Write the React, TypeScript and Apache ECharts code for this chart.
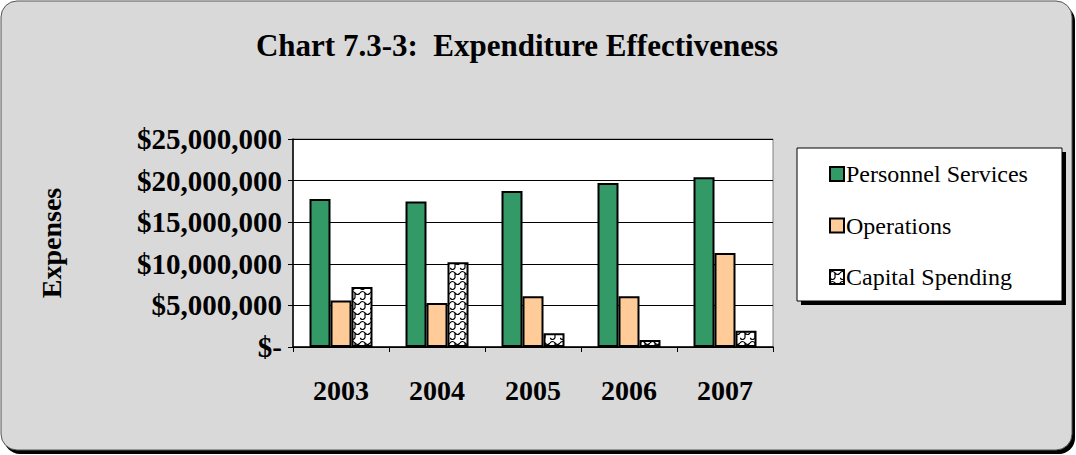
import React, { useEffect, useRef } from "react";
import * as echarts from "echarts";

const years = ["2003", "2004", "2005", "2006", "2007"];
const personnel = [17800000, 17500000, 18750000, 19700000, 20400000];
const operations = [5600000, 5300000, 6100000, 6100000, 11300000];
const capital = [7200000, 10200000, 1650000, 850000, 1950000];
const seriesNames = ["Personnel Services", "Operations", "Capital Spending"];
const titleText = "Chart 7.3-3:  Expenditure Effectiveness";
const yName = "Expenses";

const FONT = "'Liberation Serif', 'Times New Roman', serif";

function makePattern(): string {
  const c = document.createElement("canvas");
  c.width = 10;
  c.height = 10;
  const ctx = c.getContext("2d")!;
  ctx.fillStyle = "#fff";
  ctx.fillRect(0, 0, 10, 10);
  ctx.strokeStyle = "#000";
  ctx.lineWidth = 1.2;
  ctx.beginPath();
  ctx.moveTo(0, 3);
  ctx.quadraticCurveTo(2.5, 0, 5, 3);
  ctx.quadraticCurveTo(7.5, 6, 10, 3);
  ctx.moveTo(0, 8);
  ctx.quadraticCurveTo(2.5, 11, 5, 8);
  ctx.moveTo(5, 3);
  ctx.lineTo(5, 8);
  ctx.stroke();
  return c.toDataURL();
}

export default function App() {
  const ref = useRef<HTMLDivElement>(null);
  useEffect(() => {
    if (!ref.current) return;
    const chart = echarts.init(ref.current, null, { renderer: "svg" });
    const pattern = makePattern();
    const barBorder = { borderColor: "#000", borderWidth: 2 };
    chart.setOption({
      animation: false,
      backgroundColor: "#fff",
      title: {
        text: titleText,
        left: 512,
        textAlign: "center",
        top: 25,
        textStyle: { fontFamily: FONT, fontSize: 31, fontWeight: "bold", color: "#000" },
      },
      graphic: [
        { type: "rect", z: -10, shape: { x: 4, y: 5, width: 1071, height: 449, r: 16 }, style: { fill: "#000" } },
        { type: "rect", z: -9, shape: { x: 1, y: 1, width: 1071, height: 449, r: 16 }, style: { fill: "#d9d9d9", stroke: "#555", lineWidth: 1 } },
        { type: "rect", z: -8, shape: { x: 801, y: 152, width: 265, height: 153 }, style: { fill: "#000" } },
        { type: "rect", z: -7, shape: { x: 797, y: 148, width: 265, height: 153 }, style: { fill: "#fff", stroke: "#000", lineWidth: 1 } },
      ],
      legend: {
        orient: "vertical",
        left: 824,
        top: 157,
        itemWidth: 14,
        itemHeight: 14,
        itemGap: 27.5,
        icon: "rect",
        textStyle: { fontFamily: FONT, fontSize: 24, color: "#000", padding: [0, 0, 0, -3] },
        itemStyle: { borderColor: "#000", borderWidth: 2 },
        data: seriesNames,
      },
      grid: {
        left: 293,
        right: 303,
        top: 139,
        bottom: 108,
        show: true,
        backgroundColor: "#fff",
        borderColor: "#808080",
        borderWidth: 1,
      },
      xAxis: {
        type: "category",
        data: years,
        axisLine: { lineStyle: { color: "#000", width: 1.5 } },
        axisTick: { show: true, length: 5, inside: false, lineStyle: { color: "#000" } },
        axisLabel: { fontFamily: FONT, fontSize: 28, fontWeight: "bold", color: "#000", margin: 29 },
      },
      yAxis: {
        type: "value",
        min: 0,
        max: 25000000,
        interval: 5000000,
        name: yName,
        nameLocation: "middle",
        nameGap: 228,
        nameTextStyle: { fontFamily: FONT, fontSize: 28, fontWeight: "bold", color: "#000" },
        axisLine: { show: true, lineStyle: { color: "#000", width: 1.5 } },
        axisTick: { show: true, length: 5, lineStyle: { color: "#000" } },
        splitLine: { lineStyle: { color: "#000", width: 1 } },
        axisLabel: {
          fontFamily: FONT,
          fontSize: 29,
          fontWeight: "bold",
          color: "#000",
          margin: 11,
          formatter: (v: number) => (v === 0 ? "$-" : "$" + v.toLocaleString("en-US")),
        },
      },
      series: [
        {
          name: seriesNames[0],
          type: "bar",
          data: personnel,
          barWidth: 21,
          barGap: "0%",
          itemStyle: { color: "#339966", ...barBorder },
        },
        {
          name: seriesNames[1],
          type: "bar",
          data: operations,
          barWidth: 21,
          barGap: "0%",
          itemStyle: { color: "#ffcc99", ...barBorder },
        },
        {
          name: seriesNames[2],
          type: "bar",
          data: capital,
          barWidth: 21,
          barGap: "0%",
          itemStyle: { color: { image: pattern, repeat: "repeat" }, ...barBorder },
        },
      ],
    });
    return () => chart.dispose();
  }, []);
  return (
    <div
      ref={ref}
      style={{ position: "absolute", left: 0, top: 0, width: 1076, height: 455 }}
    />
  );
}
